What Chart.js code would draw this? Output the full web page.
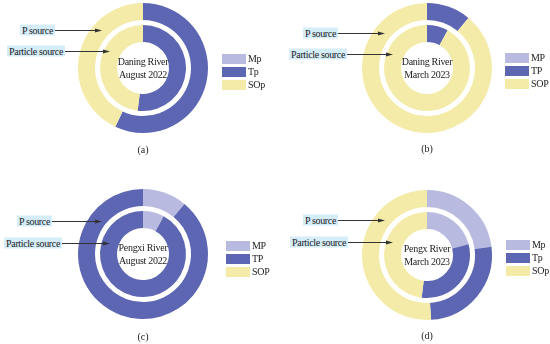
<!DOCTYPE html>
<html>
<head>
<meta charset="utf-8">
<script src="https://cdn.jsdelivr.net/npm/chart.js@4.4.0/dist/chart.umd.min.js"></script>
<style>
    body { margin: 0; background: #fff; font-family: 'Liberation Serif', 'Times New Roman', serif; }
    #wrap { position: relative; width: 550px; height: 344px; overflow: hidden; }
    .panel { position: absolute; width: 275px; height: 172px; }
    .panel canvas { position: absolute; left: 0; top: 0; }
    .tag { position: absolute; background: #d5edf8; color: #222; font-size: 10px; letter-spacing: -0.35px; line-height: 11px; padding: 0 2px; white-space: nowrap; transform: translateY(-50%); }
    .center { position: absolute; text-align: center; color: #222; font-size: 10px; letter-spacing: -0.3px; line-height: 13px; transform: translate(-50%, -50%); white-space: nowrap; }
    .letter { position: absolute; font-size: 10px; color: #222; transform: translate(-50%, -50%); }
    .leg { position: absolute; font-size: 10px; letter-spacing: -0.3px; color: #222; white-space: nowrap; }
    .leg div { display: flex; align-items: center; height: 13px; }
    .leg span.box { display: inline-block; width: 24px; height: 10px; margin-right: 2px; }
</style>
</head>
<body>
<div id="wrap"></div>
<script>
// values (percent of each ring)
const panelLetters = ['(a)', '(b)', '(c)', '(d)'];
const centerTitles = [
    ['Daning River', 'August 2022'],
    ['Daning River', 'March 2023'],
    ['Pengxi River', 'August 2022'],
    ['Pengx River', 'March 2023']
];
const legendLabels = [
    ['Mp', 'Tp', 'SOp'],
    ['MP', 'TP', 'SOP'],
    ['MP', 'TP', 'SOP'],
    ['Mp', 'Tp', 'SOp']
];
const pSourceValues = [
    [0, 57, 43],
    [0, 11, 89],
    [11, 89, 0],
    [23, 26, 51]
];
const particleSourceValues = [
    [0, 52, 48],
    [0, 8, 92],
    [8, 92, 0],
    [21, 31, 48]
];
const ringLabels = ['P source', 'Particle source'];

const sliceColors = ['#b9badf', '#5c66b3', '#f5eba8'];

// layout of each panel (px, relative to the panel)
const panelLayout = [
    { left: 0,   top: 0,   cx: 143, cy: 68, tagY: [30, 51], tagRight: [55, 65], arrowEnd: [102, 110], legX: 222, legY: 52, letterY: 149 },
    { left: 275, top: 0,   cx: 152, cy: 68, tagY: [33, 54], tagRight: [63, 72], arrowEnd: [110, 118], legX: 230, legY: 51, letterY: 148 },
    { left: 0,   top: 172, cx: 143, cy: 82, tagY: [49, 71], tagRight: [52, 62], arrowEnd: [102, 110], legX: 226, legY: 67, letterY: 164 },
    { left: 275, top: 172, cx: 152, cy: 83, tagY: [48, 70], tagRight: [63, 73], arrowEnd: [110, 118], legX: 231, legY: 66, letterY: 163 }
];
const R = 65;

const arrowPlugin = {
    id: 'arrows',
    afterDatasetsDraw(chart, args, opts) {
        const ctx = chart.ctx;
        ctx.save();
        ctx.strokeStyle = '#333';
        ctx.fillStyle = '#333';
        ctx.lineWidth = 1;
        opts.lines.forEach(function(l) {
            ctx.beginPath();
            ctx.moveTo(l.x1, l.y);
            ctx.lineTo(l.x2 - 5, l.y);
            ctx.stroke();
            ctx.beginPath();
            ctx.moveTo(l.x2, l.y);
            ctx.lineTo(l.x2 - 7, l.y - 2);
            ctx.lineTo(l.x2 - 7, l.y + 2);
            ctx.closePath();
            ctx.fill();
        });
        ctx.restore();
    }
};

const wrap = document.getElementById('wrap');

panelLayout.forEach(function(p, i) {
    const panel = document.createElement('div');
    panel.className = 'panel';
    panel.style.left = p.left + 'px';
    panel.style.top = p.top + 'px';
    const canvas = document.createElement('canvas');
    canvas.width = 275;
    canvas.height = 172;
    panel.appendChild(canvas);
    wrap.appendChild(panel);

    // ring labels
    const lines = [];
    ringLabels.forEach(function(txt, k) {
        const tag = document.createElement('span');
        tag.className = 'tag';
        tag.textContent = txt;
        tag.style.right = (275 - p.tagRight[k]) + 'px';
        tag.style.top = p.tagY[k] + 'px';
        panel.appendChild(tag);
        lines.push({ x1: p.tagRight[k], x2: p.arrowEnd[k], y: p.tagY[k] + 0.5 });
    });

    // centre title
    const c = document.createElement('div');
    c.className = 'center';
    c.innerHTML = centerTitles[i].join('<br>');
    c.style.left = p.cx + 'px';
    c.style.top = p.cy + 'px';
    panel.appendChild(c);

    // panel letter
    const lt = document.createElement('div');
    lt.className = 'letter';
    lt.textContent = panelLetters[i];
    lt.style.left = p.cx + 'px';
    lt.style.top = p.letterY + 'px';
    panel.appendChild(lt);

    // legend
    const leg = document.createElement('div');
    leg.className = 'leg';
    leg.style.left = p.legX + 'px';
    leg.style.top = p.legY + 'px';
    legendLabels[i].forEach(function(name, k) {
        leg.innerHTML += '<div><span class="box" style="background:' + sliceColors[k] + '"></span>' + name + '</div>';
    });
    panel.appendChild(leg);

    new Chart(canvas.getContext('2d'), {
        type: 'doughnut',
        data: {
            labels: legendLabels[i],
            datasets: [
                { label: ringLabels[0], data: pSourceValues[i], backgroundColor: sliceColors, borderWidth: 0, weight: 17 },
                { label: 'gap', data: [1], backgroundColor: ['rgba(0,0,0,0)'], borderWidth: 0, weight: 5 },
                { label: ringLabels[1], data: particleSourceValues[i], backgroundColor: sliceColors, borderWidth: 0, weight: 17 }
            ]
        },
        options: {
            responsive: false,
            animation: false,
            cutout: '40%',
            layout: {
                padding: {
                    left: p.cx - R,
                    right: 275 - p.cx - R,
                    top: p.cy - R,
                    bottom: 172 - p.cy - R
                }
            },
            plugins: {
                legend: { display: false },
                tooltip: { enabled: false },
                arrows: { lines: lines }
            }
        },
        plugins: [arrowPlugin]
    });
});
</script>
</body>
</html>
